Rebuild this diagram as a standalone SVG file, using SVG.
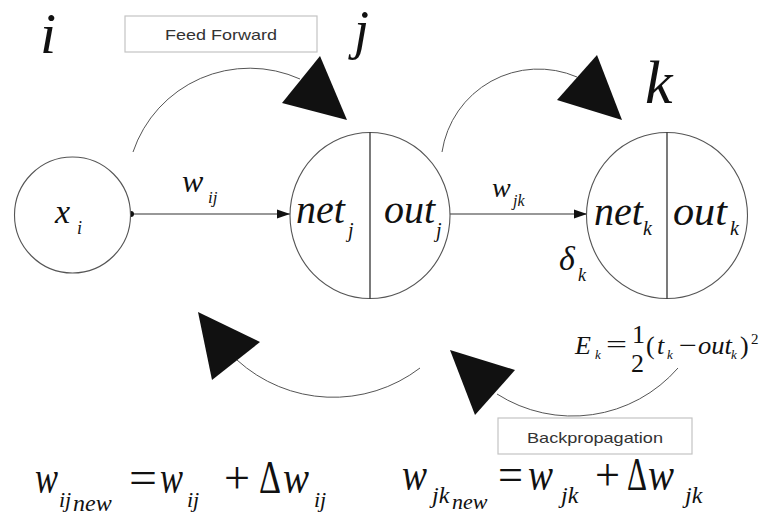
<svg xmlns="http://www.w3.org/2000/svg" width="761" height="518" viewBox="0 0 761 518">
<defs>
<style>
.m{font-family:'Liberation Serif','Times New Roman',serif;font-style:italic;fill:#111}
.u{font-family:'Liberation Serif','Times New Roman',serif;fill:#111}
.lbl{font-family:'Liberation Sans',Arial,sans-serif;font-size:15px;fill:#333;text-anchor:middle}
.box{fill:#fff;stroke:#c4c4c4;stroke-width:1.2}
.node{fill:#fff;stroke:#555;stroke-width:1.1}
.div{stroke:#222;stroke-width:1.2}
.arc{fill:none;stroke:#555;stroke-width:1}
.edge{fill:none;stroke:#333;stroke-width:1.1}
.head{fill:#111}
</style>
<marker id="arr" markerUnits="userSpaceOnUse" markerWidth="13" markerHeight="10" refX="13" refY="5" orient="auto">
<path d="M0,0.5 L13,5 L0,9.5 z" fill="#111"/>
</marker>
</defs>
<rect width="761" height="518" fill="#fff"/>

<g id="layer-labels">
<text class="m" x="40" y="53" font-size="58">i</text>
<text class="m" x="354" y="48" font-size="54">j</text>
<text class="m" x="645" y="103" font-size="62">k</text>
</g>

<g id="label-feedforward">
<rect class="box" x="125" y="16" width="192" height="36"/>
<text class="lbl" x="221" y="40" textLength="112" lengthAdjust="spacingAndGlyphs">Feed Forward</text>
</g>

<g id="label-backprop">
<rect class="box" x="498" y="418" width="194" height="36"/>
<text class="lbl" x="595" y="443" textLength="136" lengthAdjust="spacingAndGlyphs">Backpropagation</text>
</g>

<g id="connectors">
<line class="edge" x1="133" y1="214" x2="290" y2="214" marker-end="url(#arr)"/>
<circle cx="131" cy="214" r="3" fill="#111"/>
<line class="edge" x1="450" y1="214" x2="587" y2="214" marker-end="url(#arr)"/>
<path class="arc" d="M133,152 A123,123 0 0 1 300,79"/>
<polygon class="head" points="282,103 320,56 347,120"/>
<path class="arc" d="M442,152 A97.5,97.5 0 0 1 577,77"/>
<polygon class="head" points="557,100 597,55 622,120"/>
<path class="arc" d="M678,368 A140,140 0 0 1 497,394"/>
<polygon class="head" points="450,350 515,370 475,415"/>
<path class="arc" d="M420,368 A143,143 0 0 1 237,360"/>
<polygon class="head" points="198,312 260,342 212,380"/>
</g>

<g id="node-i">
<circle class="node" cx="72.5" cy="215" r="58"/>
<text class="m" x="55" y="223" font-size="34">x</text>
<text class="m" x="77" y="234" font-size="18">i</text>
</g>

<g id="label-wij">
<text class="m" x="182" y="192" font-size="32">w</text>
<text class="m" x="208" y="203" font-size="17">ij</text>
</g>

<g id="node-j">
<ellipse class="node" cx="370" cy="215.5" rx="80" ry="83"/>
<line class="div" x1="370" y1="132.5" x2="370" y2="298.5"/>
<text class="m" x="296" y="223" font-size="40">net</text>
<text class="m" x="348" y="237" font-size="20">j</text>
<text class="m" x="384" y="223" font-size="40">out</text>
<text class="m" x="436" y="237" font-size="20">j</text>
</g>

<g id="label-wjk">
<text class="m" x="492" y="197" font-size="28">w</text>
<text class="m" x="513" y="206" font-size="16">jk</text>
</g>

<g id="node-k">
<ellipse class="node" cx="667" cy="215.5" rx="80.5" ry="83"/>
<line class="div" x1="667" y1="132.5" x2="667" y2="298.5"/>
<text class="m" x="594" y="225" font-size="40">net</text>
<text class="m" x="643" y="235" font-size="20">k</text>
<text class="m" x="673" y="225" font-size="40" textLength="54" lengthAdjust="spacingAndGlyphs">out</text>
<text class="m" x="730" y="235" font-size="20">k</text>
</g>

<g id="label-delta">
<text class="m" x="559" y="270" font-size="34">δ</text>
<text class="m" x="578" y="281" font-size="18">k</text>
</g>

<g id="formula-error">
<text class="m" x="575" y="354" font-size="26">E</text>
<text class="m" x="595" y="359" font-size="13">k</text>
<text class="u" x="606" y="353" font-size="26" textLength="21" lengthAdjust="spacingAndGlyphs">=</text>
<text class="u" x="632" y="343" font-size="26">1</text>
<text class="u" x="631" y="372" font-size="26">2</text>
<text class="u" x="646" y="354" font-size="26">(</text>
<text class="m" x="657" y="354" font-size="26">t</text>
<text class="m" x="667" y="359" font-size="13">k</text>
<text class="u" x="679" y="354" font-size="26" textLength="18" lengthAdjust="spacingAndGlyphs">−</text>
<text class="m" x="698" y="354" font-size="26" textLength="34" lengthAdjust="spacingAndGlyphs">out</text>
<text class="m" x="731" y="359" font-size="13">k</text>
<text class="u" x="740" y="354" font-size="26">)</text>
<text class="u" x="751" y="344" font-size="15">2</text>
</g>

<g id="formula-wij">
<text class="m" x="35" y="493" font-size="46" textLength="23" lengthAdjust="spacingAndGlyphs">w</text>
<text class="m" x="59" y="507" font-size="22">ij</text>
<text class="m" x="73" y="511" font-size="24">new</text>
<text class="u" x="129" y="493" font-size="46" textLength="28" lengthAdjust="spacingAndGlyphs">=</text>
<text class="m" x="160" y="493" font-size="46" textLength="23" lengthAdjust="spacingAndGlyphs">w</text>
<text class="m" x="187" y="507" font-size="22">ij</text>
<text class="u" x="224" y="493" font-size="46" textLength="26" lengthAdjust="spacingAndGlyphs">+</text>
<text class="u" x="259" y="493" font-size="46" textLength="22" lengthAdjust="spacingAndGlyphs">Δ</text>
<text class="m" x="283" y="493" font-size="46" textLength="26" lengthAdjust="spacingAndGlyphs">w</text>
<text class="m" x="314" y="507" font-size="22">ij</text>
</g>

<g id="formula-wjk">
<text class="m" x="402" y="490" font-size="46" textLength="25" lengthAdjust="spacingAndGlyphs">w</text>
<text class="m" x="432" y="503" font-size="24">jk</text>
<text class="m" x="452" y="509" font-size="22">new</text>
<text class="u" x="498" y="490" font-size="46" textLength="25" lengthAdjust="spacingAndGlyphs">=</text>
<text class="m" x="528" y="490" font-size="46" textLength="25" lengthAdjust="spacingAndGlyphs">w</text>
<text class="m" x="561" y="503" font-size="24">jk</text>
<text class="u" x="595" y="490" font-size="46" textLength="25" lengthAdjust="spacingAndGlyphs">+</text>
<text class="u" x="627" y="490" font-size="46" textLength="20" lengthAdjust="spacingAndGlyphs">Δ</text>
<text class="m" x="648" y="490" font-size="46" textLength="26" lengthAdjust="spacingAndGlyphs">w</text>
<text class="m" x="685" y="503" font-size="24">jk</text>
</g>
</svg>
